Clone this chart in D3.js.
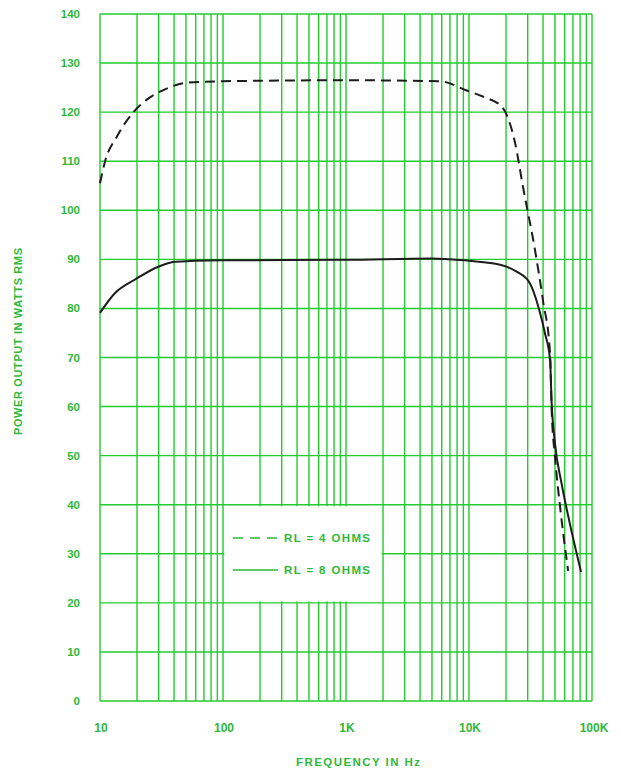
<!DOCTYPE html>
<html><head><meta charset="utf-8">
<script src="https://cdn.jsdelivr.net/npm/d3@7"></script>
<style>html,body{margin:0;padding:0;background:#fff;}svg{display:block;}</style>
</head><body>
<script>
// ---- data ----
const yTicks = [0,10,20,30,40,50,60,70,80,90,100,110,120,130,140];
const xTickValues = [10,100,1000,10000,100000];
const xTickLabels = ["10","100","1K","10K","100K"];
const freq4 = [10,11,13.7,18.7,25.5,34.8,50.7,100,1000,5800,9600,13500,18500,20300,23700,27600,34400,40000,45600,47000,50000,55000,64000];
const watts4 = [105.5,110,115,120,123,124.8,126,126.3,126.5,126.3,124.4,123,121.1,119.4,113.7,104.5,91.9,81.5,70.9,59.3,49.8,39.6,26.5];
const freq8 = [10,13.2,19.3,29.8,40.7,59,100,1000,5000,7000,10000,17900,24400,31300,36600,41500,45600,47000,50000,56500,66000,81500];
const watts8 = [79.1,83.1,85.9,88.5,89.5,89.7,89.8,89.9,90.2,90.0,89.7,88.9,87.5,85.1,80.4,74.9,69.5,60.7,52.5,44.4,36.2,26.3];
const seriesNames = ["RL = 4 OHMS","RL = 8 OHMS"];
const xTitle = "FREQUENCY IN Hz";
const yTitle = "POWER OUTPUT IN WATTS RMS";

const W = 621, H = 774;
const grid = "#22cc2e", txt = "#2fb83a", ink = "#1c1c1c";
const font = "'Liberation Sans', Arial, Helvetica, sans-serif";

const svg = d3.select("body").append("svg").attr("width", W).attr("height", H);
const x = d3.scaleLog().domain([10,100000]).range([100,592]);
const y = d3.scaleLinear().domain([0,140]).range([701,14]);

// vertical gridlines
const vLines = [];
for (let d = 10; d < 100000; d *= 10) for (let k = 1; k <= 9; k++) vLines.push(d*k);
vLines.push(100000);
const g = svg.append("g");
g.selectAll("line.v").data(vLines).join("line")
  .attr("x1", d => x(d)).attr("x2", d => x(d))
  .attr("y1", y(0)).attr("y2", y(140))
  .attr("stroke", grid).attr("stroke-width", 1.4);
g.selectAll("line.h").data(yTicks).join("line")
  .attr("x1", x(10)).attr("x2", x(100000))
  .attr("y1", d => y(d)).attr("y2", d => y(d))
  .attr("stroke", grid).attr("stroke-width", 1.4);

// legend box (white, covers gridlines)
svg.append("rect")
  .attr("x", x(100) + 1.5).attr("y", y(40) + 1.5)
  .attr("width", x(2000) - x(100) - 3).attr("height", y(20) - y(40) - 3)
  .attr("fill", "#fff");

// y tick labels
svg.append("g").selectAll("text").data(yTicks).join("text")
  .attr("x", 80).attr("y", d => y(d)).attr("dy", "0.35em")
  .attr("text-anchor", "end").attr("font-family", font).attr("font-weight", "bold")
  .attr("font-size", 11.5).attr("fill", txt).text(d => d);

// x tick labels
svg.append("g").selectAll("text").data(xTickValues).join("text")
  .attr("x", d => x(d) + (d === 100000 ? 2 : 1)).attr("y", 732)
  .attr("text-anchor", "middle").attr("font-family", font).attr("font-weight", "bold")
  .attr("font-size", 12).attr("fill", txt).text((d, i) => xTickLabels[i]);

// titles
svg.append("text").attr("x", 296).attr("y", 766)
  .attr("textLength", 124).attr("lengthAdjust", "spacing")
  .attr("font-family", font).attr("font-weight", "bold").attr("font-size", 11.5)
  .attr("fill", txt).text(xTitle);
svg.append("text").attr("transform", "translate(22,435) rotate(-90)")
  .attr("textLength", 187).attr("lengthAdjust", "spacing")
  .attr("font-family", font).attr("font-weight", "bold").attr("font-size", 11)
  .attr("fill", txt).text(yTitle);

// curves
const line = d3.line().x(d => x(d[0])).y(d => y(d[1])).curve(d3.curveMonotoneX);
svg.append("path").datum(d3.zip(freq4, watts4)).attr("d", line)
  .attr("fill", "none").attr("stroke", ink).attr("stroke-width", 2)
  .attr("stroke-dasharray", "10,6");
svg.append("path").datum(d3.zip(freq8, watts8)).attr("d", line)
  .attr("fill", "none").attr("stroke", ink).attr("stroke-width", 2);

// legend
const lg = svg.append("g");
[0,1].forEach(i => {
  const ly = i === 0 ? 538 : 570;
  lg.append("line").attr("x1", 233).attr("x2", 278).attr("y1", ly).attr("y2", ly)
    .attr("stroke", txt).attr("stroke-width", 1.6)
    .attr("stroke-dasharray", i === 0 ? "10,7" : null);
  lg.append("text").attr("x", 284).attr("y", ly).attr("dy", "0.35em")
    .attr("textLength", 86).attr("lengthAdjust", "spacing")
    .attr("font-family", font).attr("font-weight", "bold").attr("font-size", 11.5)
    .attr("fill", txt).text(seriesNames[i]);
});
</script>
</body></html>
